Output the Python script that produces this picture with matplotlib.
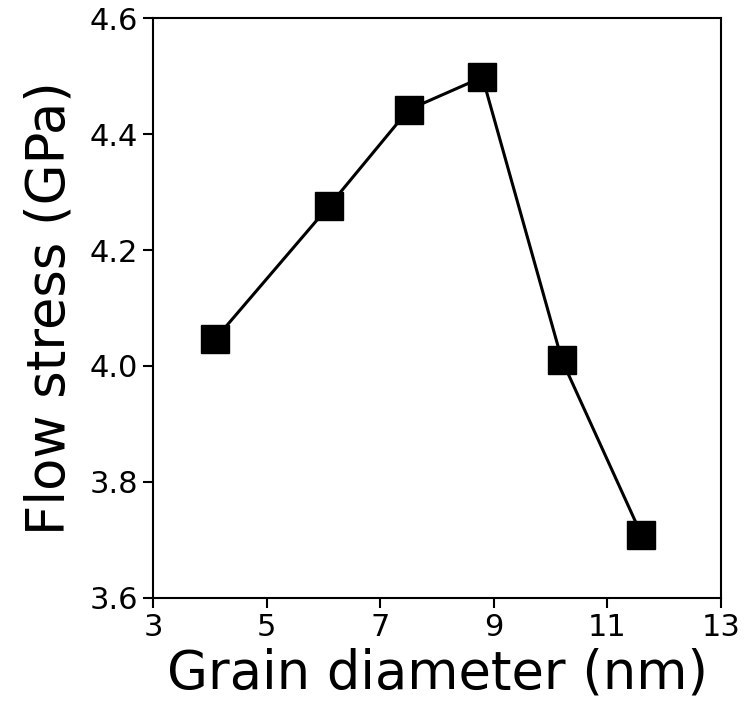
import matplotlib
matplotlib.use("Agg")
import matplotlib.pyplot as plt

# Flow stress versus grain diameter
grain_diameter = [4.1, 6.1, 7.5, 8.8, 10.2, 11.6]
flow_stress = [4.047, 4.276, 4.442, 4.498, 4.010, 3.709]

x_ticks = [3, 5, 7, 9, 11, 13]
y_ticks = [3.6, 3.8, 4.0, 4.2, 4.4, 4.6]

fig = plt.figure(figsize=(7.49, 7.04), dpi=100)
ax = fig.add_axes([0.2043, 0.1506, 0.7583, 0.8238])

ax.plot(grain_diameter, flow_stress, color="black", linewidth=2.2,
        marker="s", markersize=20, markerfacecolor="black", markeredgecolor="black")

ax.set_xlim(3, 13)
ax.set_ylim(3.6, 4.6)
ax.set_xticks(x_ticks)
ax.set_yticks(y_ticks)
ax.set_xticklabels([str(v) for v in x_ticks])
ax.set_yticklabels([f"{v:.1f}" for v in y_ticks])

ax.tick_params(labelsize=22, width=1.5, length=7)
for spine in ax.spines.values():
    spine.set_linewidth(1.5)

ax.set_xlabel("Grain diameter (nm)", fontsize=38, labelpad=4)
ax.set_ylabel("Flow stress (GPa)", fontsize=38, labelpad=10)

fig.savefig("out.png", dpi=100)
